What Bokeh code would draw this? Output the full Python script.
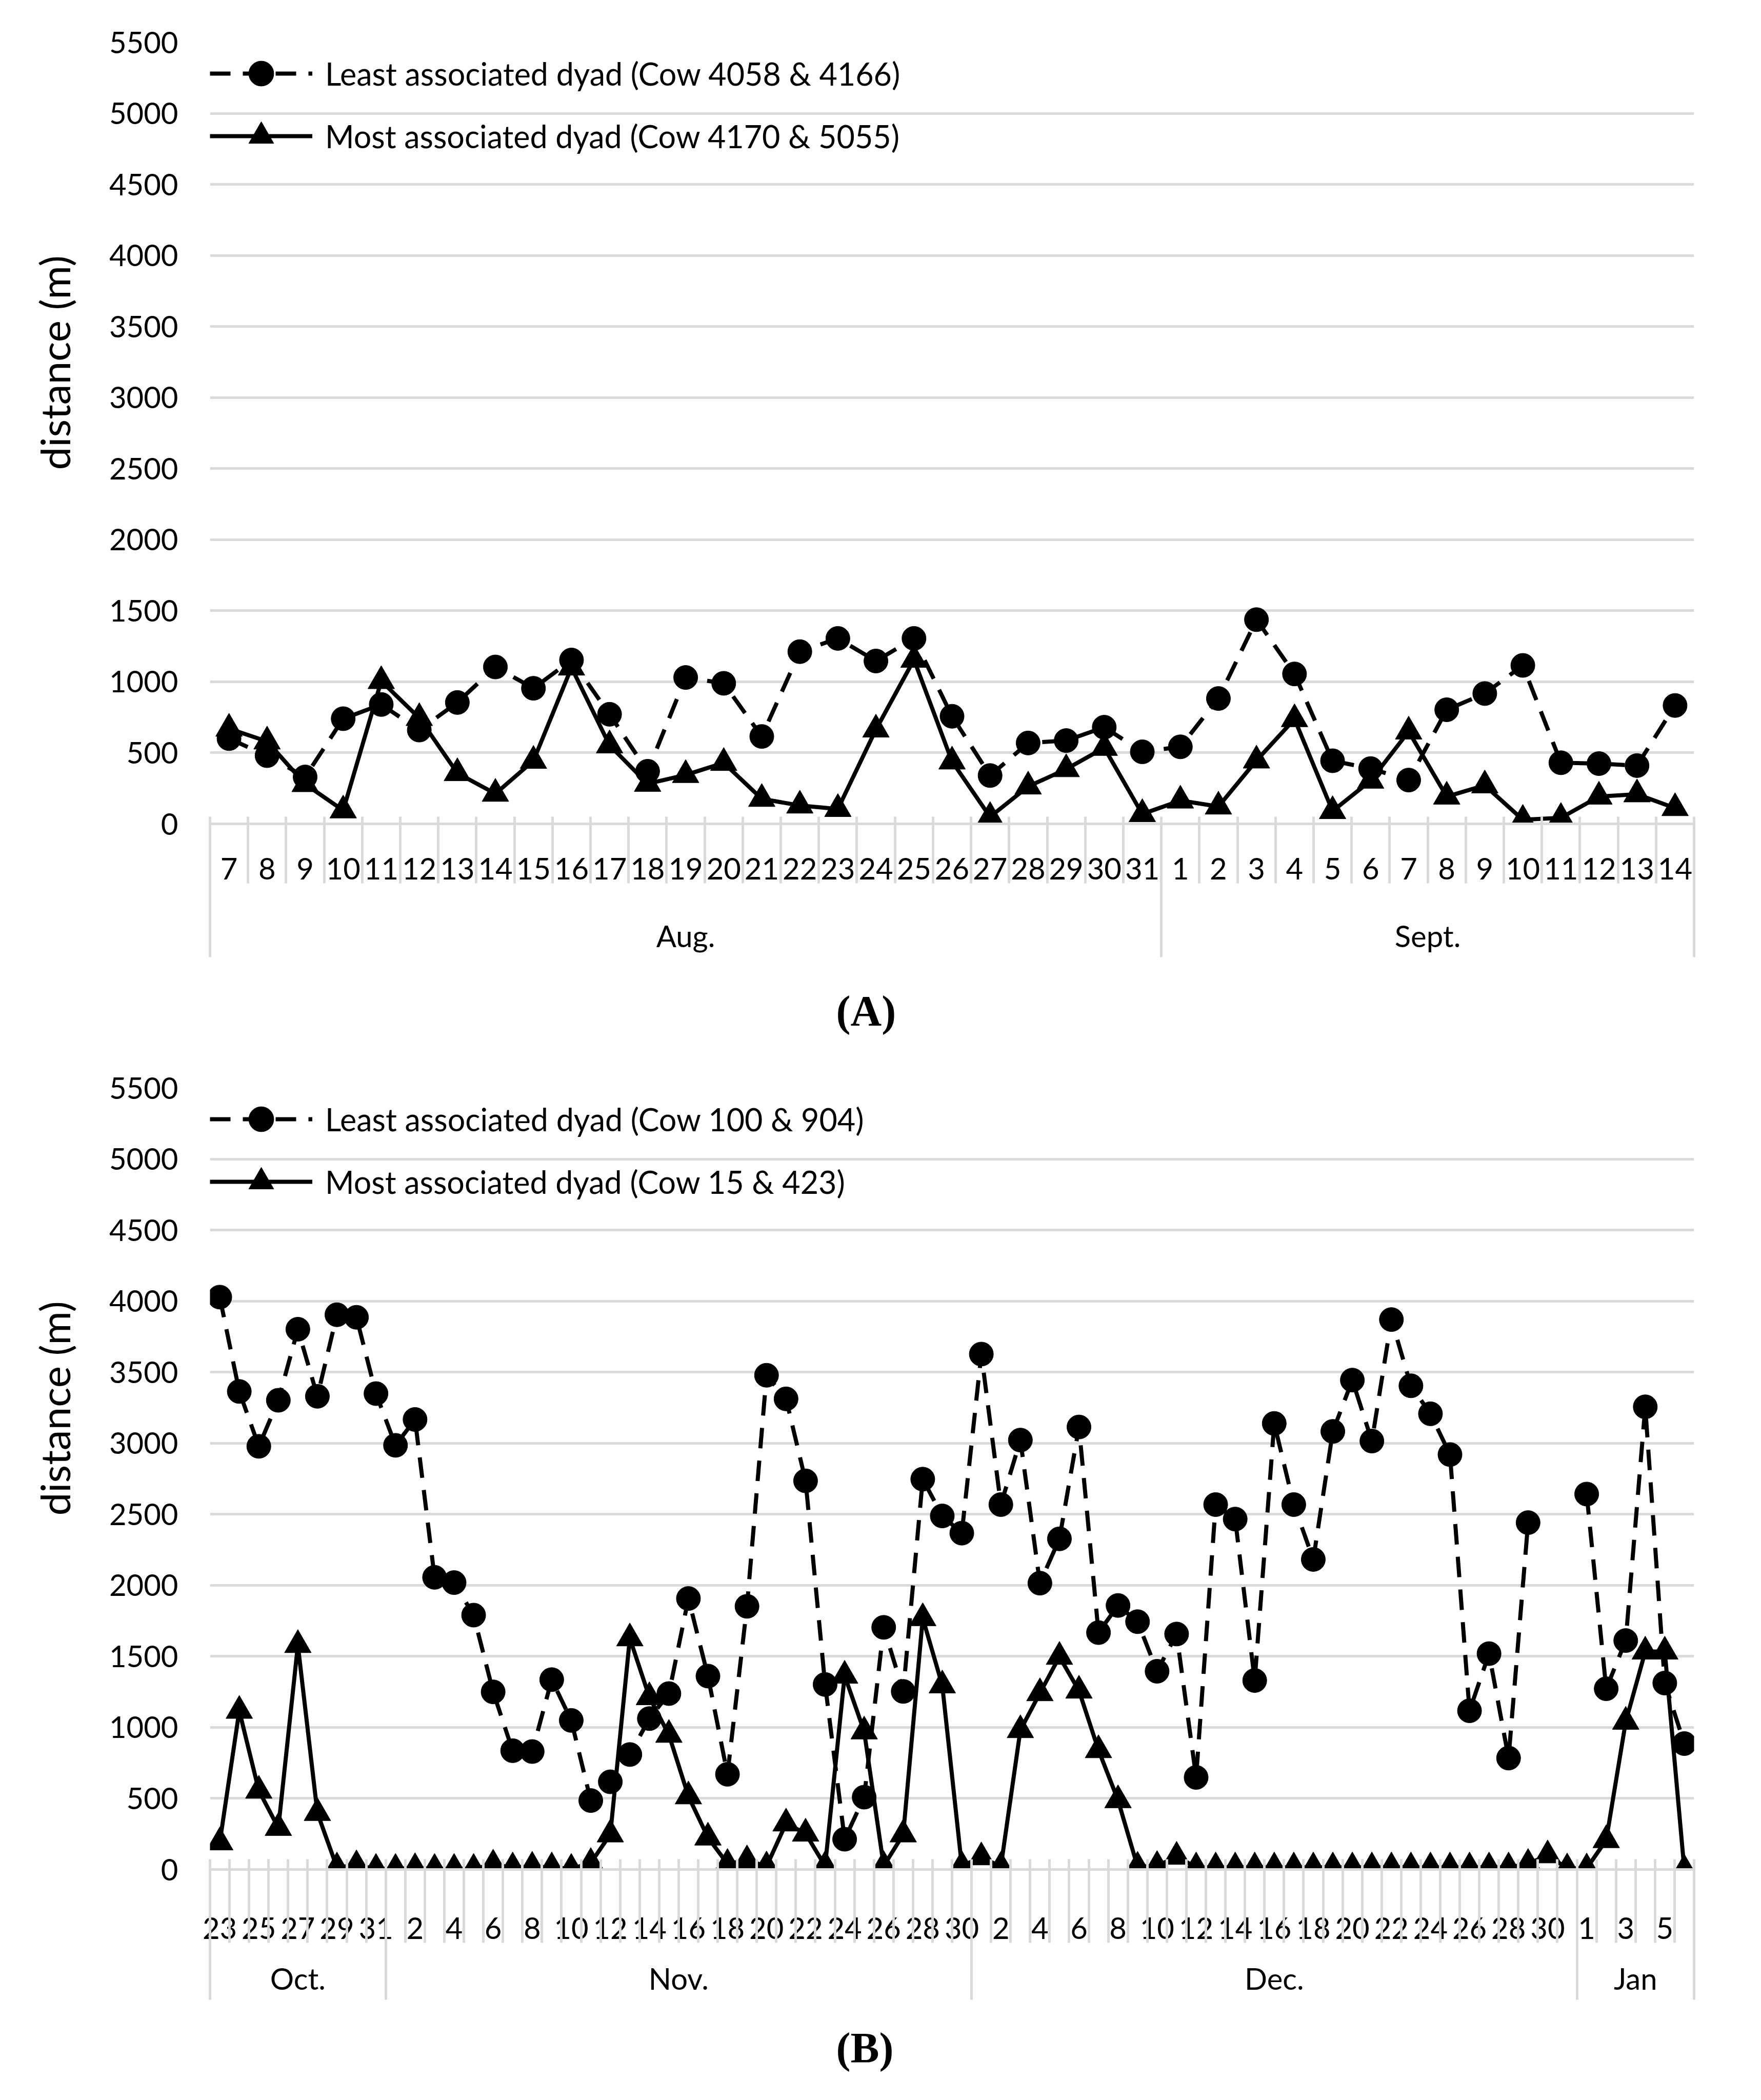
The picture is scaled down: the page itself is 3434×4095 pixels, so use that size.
import numpy as np
from bokeh.plotting import figure
from bokeh.models import (Range1d, FixedTicker, LinearAxis, Legend, LegendItem,
                          Title, ColumnDataSource)
from bokeh.layouts import column
from bokeh.embed import file_html
from bokeh.resources import INLINE

FONT = "Lato"
GRID = "#D9D9D9"
NAN = float("nan")

# ---------------- Panel A data ----------------
a_months = ["Aug.", "Sept."]
a_month_len = [25, 14]
a_days = [7, 8, 9, 10, 11, 12, 13, 14, 15, 16, 17, 18, 19, 20, 21, 22, 23, 24,
          25, 26, 27, 28, 29, 30, 31,
          1, 2, 3, 4, 5, 6, 7, 8, 9, 10, 11, 12, 13, 14]
a_least = [600, 480, 330, 740, 840, 660, 854, 1104, 954, 1153, 771, 370, 1030,
           989, 615, 1212, 1305, 1146, 1305, 757, 340, 569, 586, 680, 507,
           542, 882, 1437, 1055, 444, 389, 308, 803, 917, 1115, 430, 424, 410, 833]
a_most = [670, 580, 280, 95, 1005, 745, 357, 212, 444, 1100, 553, 282, 344,
          429, 176, 129, 105, 664, 1155, 439, 49, 263, 385, 535, 69,
          164, 122, 446, 737, 90, 304, 650, 192, 271, 29, 42, 192, 208, 111]
a_least_label = "Least associated dyad (Cow 4058 & 4166)"
a_most_label = "Most associated dyad (Cow 4170 & 5055)"

# ---------------- Panel B data ----------------
b_months = ["Oct.", "Nov.", "Dec.", "Jan"]
b_month_len = [9, 30, 31, 6]
b_days = [23, 24, 25, 26, 27, 28, 29, 30, 31,
          1, 2, 3, 4, 5, 6, 7, 8, 9, 10, 11, 12, 13, 14, 15, 16, 17, 18, 19, 20,
          21, 22, 23, 24, 25, 26, 27, 28, 29, 30,
          1, 2, 3, 4, 5, 6, 7, 8, 9, 10, 11, 12, 13, 14, 15, 16, 17, 18, 19, 20,
          21, 22, 23, 24, 25, 26, 27, 28, 29, 30, 31,
          1, 2, 3, 4, 5, 6]
b_least = [4028, 3364, 2978, 3302, 3802, 3330, 3904, 3886, 3349,
           2985, 3167, 2056, 2019, 1790, 1250, 836, 830, 1336, 1049, 485, 617,
           809, 1062, 1238, 1907, 1361, 670, 1852, 3478, 3312, 2735, 1302, 213,
           509, 1704, 1253, 2747, 2488, 2367,
           3627, 2568, 3022, 2015, 2327, 3114, 1667, 1858, 1744, 1395, 1657, 648,
           2568, 2466, 1330, 3139, 2568, 2182, 3083, 3444, 3015, 3870, 3404,
           3207, 2920, 1117, 1519, 784, 2441, NAN, NAN,
           2642, 1272, 1611, 3256, 1312, 886]
b_most = [191, 1117, 555, 293, 1580, 398, 15, 30, 5,
          5, 10, 5, 5, 5, 35, 15, 20, 15, 5, 46, 247, 1627, 1213, 948, 515, 225,
          40, 65, 22, 324, 253, 25, 1364, 972, 25, 247, 1769, 1296, 25,
          86, 20, 981, 1241, 1497, 1259, 840, 488, 20, 25, 90, 15, 15, 15, 15,
          15, 15, 15, 15, 15, 15, 15, 15, 15, 15, 15, 15, 15, 40, 100, 8,
          8, 207, 1040, 1534, 1534, 0]
b_least_label = "Least associated dyad (Cow 100 & 904)"
b_most_label = "Most associated dyad (Cow 15 & 423)"

y_ticks = [0, 500, 1000, 1500, 2000, 2500, 3000, 3500, 4000, 4500, 5000, 5500]
y_label = "distance (m)"


def style_labels(ax, size="58px"):
    ax.major_label_text_font = FONT
    ax.major_label_text_font_size = size
    ax.major_label_text_color = "black"


def make_panel(days, months, month_len, least, most, least_lbl, most_lbl,
               tag, step, border_top, border_bottom, tag_standoff,
               day_standoff, month_standoff, sep_in):
    n = len(days)
    xs = list(range(n))
    p = figure(frame_width=2894, frame_height=1524,
               x_range=Range1d(-0.5, n - 0.5), y_range=Range1d(0, 5500),
               min_border_left=409, min_border_right=100,
               min_border_top=border_top, min_border_bottom=border_bottom,
               output_backend="svg", toolbar_location=None)
    p.outline_line_color = None
    p.background_fill_color = "white"
    p.border_fill_color = "white"

    src = ColumnDataSource(dict(x=xs, least=np.array(least, dtype=float),
                                most=np.array(most, dtype=float)))
    l1 = p.line("x", "least", source=src, line_color="black", line_width=8,
                line_dash="40 24", line_join="round")
    s1 = p.scatter("x", "least", source=src, marker="circle", size=47,
                   fill_color="black", line_color="black")
    l2 = p.line("x", "most", source=src, line_color="black", line_width=8,
                line_join="round")
    s2 = p.scatter("x", "most", source=src, marker="triangle", size=52,
                   fill_color="black", line_color="black")

    # y axis
    ya = p.yaxis[0]
    ya.ticker = FixedTicker(ticks=y_ticks)
    ya.axis_line_color = None
    ya.major_tick_line_color = None
    ya.minor_tick_line_color = None
    ya.major_tick_out = 0
    ya.major_tick_in = 0
    ya.minor_tick_out = 0
    ya.minor_tick_in = 0
    ya.major_label_standoff = 62
    style_labels(ya)
    p.ygrid.grid_line_color = GRID
    p.ygrid.grid_line_width = 5
    p.xgrid.visible = False

    # axis 1: day labels
    xa = p.xaxis[0]
    xa.ticker = FixedTicker(ticks=xs, minor_ticks=[])
    xa.major_label_overrides = {i: (str(days[i]) if i % step == 0 else "")
                                for i in xs}
    xa.axis_line_color = GRID
    xa.axis_line_width = 5
    xa.major_tick_line_color = None
    xa.minor_tick_line_color = None
    xa.major_tick_out = 0
    xa.major_tick_in = 0
    xa.minor_tick_out = 0
    xa.minor_tick_in = 0
    xa.major_label_standoff = day_standoff
    style_labels(xa)

    # axis 2: month labels + category separators
    bounds = [i - 0.5 for i in range(n + 1)]
    gb = [-0.5]
    for m in month_len:
        gb.append(gb[-1] + m)
    centers = [(gb[i] + gb[i + 1]) / 2 for i in range(len(months))]
    ma = LinearAxis(ticker=FixedTicker(ticks=centers, minor_ticks=bounds),
                    major_label_overrides={c: m for c, m in zip(centers, months)})
    ma.axis_line_color = None
    ma.major_tick_line_color = None
    ma.major_tick_out = 0
    ma.major_tick_in = 0
    ma.minor_tick_line_color = GRID
    ma.minor_tick_line_width = 5
    ma.minor_tick_in = sep_in
    ma.minor_tick_out = 5
    ma.major_label_standoff = month_standoff
    style_labels(ma)
    p.add_layout(ma, "below")

    # axis 3: extension of month separators
    ga = LinearAxis(ticker=FixedTicker(ticks=[], minor_ticks=gb))
    ga.axis_line_color = None
    ga.major_tick_line_color = None
    ga.major_tick_out = 0
    ga.major_tick_in = 0
    ga.minor_tick_line_color = GRID
    ga.minor_tick_line_width = 5
    ga.minor_tick_in = 140
    ga.minor_tick_out = 5
    ga.major_label_standoff = 0
    p.add_layout(ga, "below")

    # panel tag below
    p.add_layout(Title(text=tag, align="left", offset=1221,
                       vertical_align="middle", standoff=tag_standoff,
                       text_font="Liberation Serif", text_font_style="bold",
                       text_font_size="84px", text_color="black"), "below")

    # y axis title on the left
    p.add_layout(Title(text=y_label, align="left", offset=690,
                       vertical_align="middle", standoff=110,
                       text_font=FONT, text_font_style="normal",
                       text_font_size="80px", text_color="black"), "left")

    legend = Legend(items=[LegendItem(label=least_lbl, renderers=[l1, s1]),
                           LegendItem(label=most_lbl, renderers=[l2, s2])],
                    location="top_left", orientation="vertical",
                    glyph_width=200, glyph_height=122, label_standoff=25,
                    padding=19, spacing=0, margin=0, border_line_color=None,
                    background_fill_alpha=0, label_text_font=FONT,
                    label_text_font_size="61px", label_text_color="black")
    p.add_layout(legend)
    return p


pA = make_panel(a_days, a_months, a_month_len, a_least, a_most,
                a_least_label, a_most_label, "(A)", 1, 82, 459, 114,
                66, 67, 125)
pB = make_panel(b_days, b_months, b_month_len, b_least, b_most,
                b_least_label, b_most_label, "(B)", 2, 46, 437, 92,
                93, 34, 158)

layout = column(pA, pB)
open("out.html", "w").write(file_html(layout, INLINE))
